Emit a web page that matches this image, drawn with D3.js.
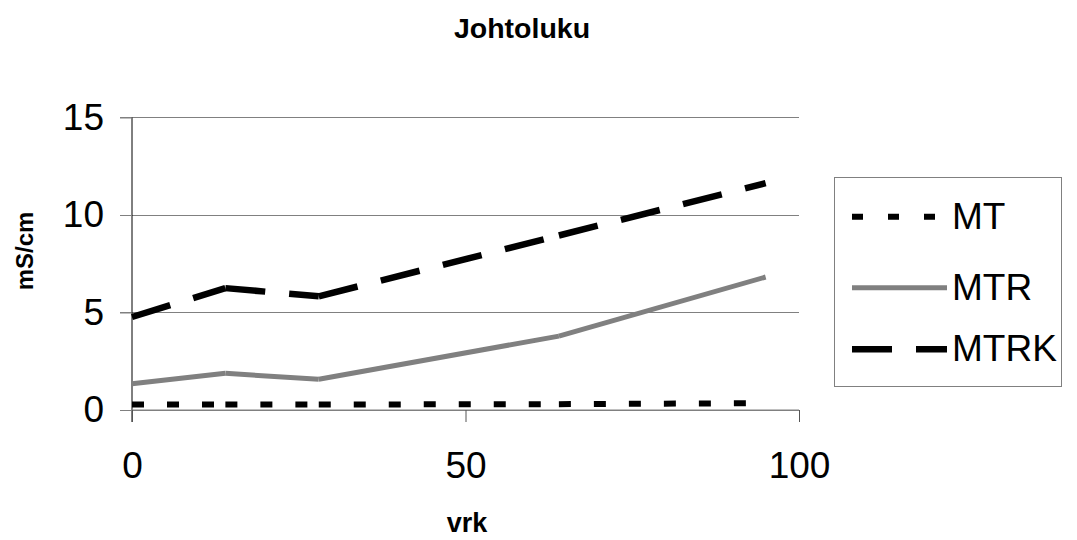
<!DOCTYPE html>
<html>
<head>
<meta charset="utf-8">
<script src="https://cdn.jsdelivr.net/npm/d3@7"></script>
<style>
  html, body { margin: 0; padding: 0; background: #fff; }
  svg { display: block; font-family: "Liberation Sans", Arial, sans-serif; }
</style>
</head>
<body>
<svg id="chart" width="1077" height="540"></svg>
<script>
// ---- data ----
const days = [0, 14, 28, 64, 95];
const MT = [0.28, 0.28, 0.28, 0.30, 0.35];
const MTR = [1.35, 1.88, 1.58, 3.79, 6.82];
const MTRK = [4.77, 6.25, 5.83, 8.95, 11.63];
const seriesNames = ["MT", "MTR", "MTRK"];
const xTicks = [0, 50, 100];
const yTicks = [0, 5, 10, 15];
const title = "Johtoluku";
const xTitle = "vrk";
const yTitle = "mS/cm";

// ---- styles ----
const styles = {
  MT:   { color: "#000000", width: 6, dash: "12 23" },
  MTR:  { color: "#808080", width: 5, dash: null },
  MTRK: { color: "#000000", width: 6.5, dash: "40 24" }
};
const seriesData = { MT: MT, MTR: MTR, MTRK: MTRK };

const svg = d3.select("#chart");
const x = d3.scaleLinear().domain([0, 100]).range([132, 799]);
const y = d3.scaleLinear().domain([0, 15]).range([410, 117.5]);

// gridlines
svg.append("g").selectAll("line").data(yTicks).join("line")
  .attr("x1", 120).attr("x2", x(100))
  .attr("y1", d => y(d)).attr("y2", d => y(d))
  .attr("stroke", "#808080").attr("stroke-width", 1)
  .attr("shape-rendering", "crispEdges");

// y axis
const yAxis = d3.axisLeft(y).tickValues(yTicks).tickSize(12).tickPadding(16);
const gy = svg.append("g").attr("transform", `translate(${x(0)},0)`).call(yAxis);
gy.select(".domain").attr("stroke", "#000").attr("d", `M0,${y(15)}V${y(0) + 12}`);
gy.selectAll(".tick line").attr("stroke", "#808080");
gy.selectAll("text").attr("font-size", 37).attr("fill", "#000")
  .attr("font-family", "Liberation Sans, Arial, sans-serif");

// x axis
const xAxis = d3.axisBottom(x).tickValues(xTicks).tickSize(12).tickPadding(30);
const gx = svg.append("g").attr("transform", `translate(0,${y(0)})`).call(xAxis);
gx.select(".domain").attr("stroke", "#808080").attr("d", `M${x(0)},0H${x(100)}`);
gx.selectAll(".tick line").attr("stroke", "#555");
gx.selectAll("text").attr("font-size", 37).attr("fill", "#000")
  .attr("font-family", "Liberation Sans, Arial, sans-serif");

// series: each segment drawn separately so the dash pattern restarts at each point
const line = d3.line().x(d => x(d[0])).y(d => y(d[1]));
seriesNames.forEach(name => {
  const pts = days.map((d, i) => [d, seriesData[name][i]]);
  const st = styles[name];
  const g = svg.append("g");
  g.selectAll("path").data(d3.pairs(pts)).join("path")
    .attr("d", d => line(d))
    .attr("fill", "none")
    .attr("stroke", st.color)
    .attr("stroke-width", st.width)
    .attr("stroke-dasharray", st.dash)
    .attr("stroke-linejoin", "round");
});

// legend
const lg = svg.append("g");
lg.append("rect").attr("x", 834.5).attr("y", 177.5).attr("width", 227).attr("height", 209)
  .attr("fill", "#fff").attr("stroke", "#808080").attr("stroke-width", 1);
const legendY = { MT: 216.7, MTR: 287.7, MTRK: 349.3 };
seriesNames.forEach(name => {
  const st = styles[name];
  lg.append("line").attr("x1", 852).attr("x2", 947)
    .attr("y1", legendY[name]).attr("y2", legendY[name])
    .attr("stroke", st.color).attr("stroke-width", st.width)
    .attr("stroke-dasharray", name === "MT" ? "11 25" : st.dash);
  lg.append("text").attr("x", 952).attr("y", legendY[name] + 12)
    .attr("font-size", 37).attr("fill", "#000").text(name);
});

// titles
svg.append("text").attr("x", 522).attr("y", 38).attr("text-anchor", "middle")
  .attr("font-size", 28.5).attr("font-weight", "bold").text(title);
svg.append("text").attr("x", 467).attr("y", 532).attr("text-anchor", "middle")
  .attr("font-size", 27).attr("font-weight", "bold").text(xTitle);
svg.append("text").attr("transform", "translate(33,251) rotate(-90)")
  .attr("text-anchor", "middle")
  .attr("font-size", 24).attr("font-weight", "bold").text(yTitle);
</script>
</body>
</html>
